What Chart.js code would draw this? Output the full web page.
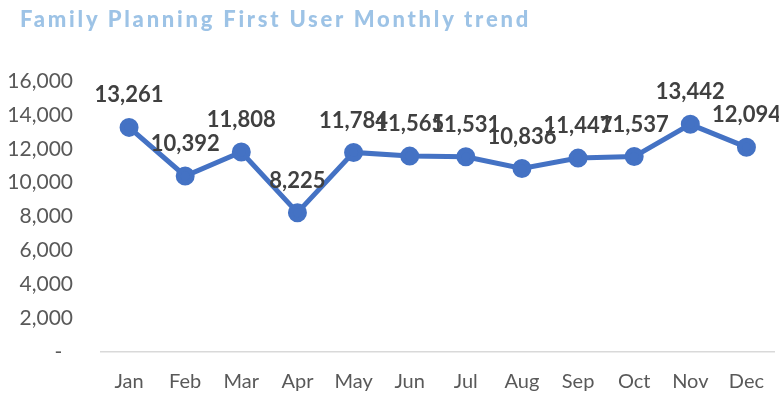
<!DOCTYPE html>
<html>
<head>
<meta charset="utf-8">
<script src="https://cdn.jsdelivr.net/npm/chart.js@4"></script>
<style>
html,body{margin:0;padding:0;background:#fff;}
#wrap{position:relative;width:779px;height:405px;}
#title{position:absolute;left:20px;top:5px;font-family:Lato,sans-serif;font-weight:900;font-size:22px;letter-spacing:2.75px;color:#9DC3E6;white-space:nowrap;}
canvas{position:absolute;left:0;top:0;}
</style>
</head>
<body>
<div id="wrap">
<canvas id="c" width="779" height="405"></canvas>
<div id="title">Family Planning First User Monthly trend</div>
</div>
<script>
const months = ["Jan","Feb","Mar","Apr","May","Jun","Jul","Aug","Sep","Oct","Nov","Dec"];
const firstUsers = [13261,10392,11808,8225,11784,11565,11531,10836,11447,11537,13442,12094];
const yTicks = [0,2000,4000,6000,8000,10000,12000,14000,16000];

const fmt = v => v === 0 ? '-  ' : v.toLocaleString('en-US');

const labelPlugin = {
  id: 'pointLabels',
  afterDatasetsDraw(chart) {
    const ctx = chart.ctx;
    const meta = chart.getDatasetMeta(0);
    ctx.save();
    ctx.font = 'bold 22px Lato, sans-serif';
    ctx.fillStyle = '#404040';
    ctx.textAlign = 'center';
    ctx.textBaseline = 'middle';
    meta.data.forEach((pt, i) => {
      ctx.fillText(fmt(firstUsers[i]), pt.x, pt.y - 32);
    });
    ctx.restore();
  }
};

new Chart(document.getElementById('c'), {
  type: 'line',
  data: {
    labels: months,
    datasets: [{
      data: firstUsers,
      borderColor: '#4472C4',
      backgroundColor: '#4472C4',
      borderWidth: 5,
      pointRadius: 7,
      pointBackgroundColor: '#4472C4',
      pointBorderColor: '#4472C4',
      tension: 0,
      fill: false,
      clip: false
    }]
  },
  options: {
    responsive: false,
    animation: false,
    layout: { autoPadding: false, padding: { top: 81, right: 4.5, left: 0, bottom: 0 } },
    plugins: { legend: { display: false }, tooltip: { enabled: false }, title: { display: false } },
    scales: {
      x: {
        offset: true,
        grid: { display: false, drawTicks: false },
        border: { display: true, color: '#D9D9D9', width: 1.5 },
        ticks: { color: '#595959', font: { family: 'Lato', size: 20 }, padding: 18, maxRotation: 0 },
        afterFit(s) { s.height = 53; s.paddingRight = 0; s.paddingLeft = 0; }
      },
      y: {
        min: 0, max: 16000,
        afterBuildTicks(s) { s.ticks = yTicks.map(v => ({ value: v })); },
        grid: { display: false, drawTicks: false },
        border: { display: false },
        ticks: { color: '#595959', font: { family: 'Lato', size: 21 }, padding: 28, callback: v => fmt(v) },
        afterFit(s) { s.width = 101; }
      }
    }
  },
  plugins: [labelPlugin]
});
</script>
</body>
</html>
